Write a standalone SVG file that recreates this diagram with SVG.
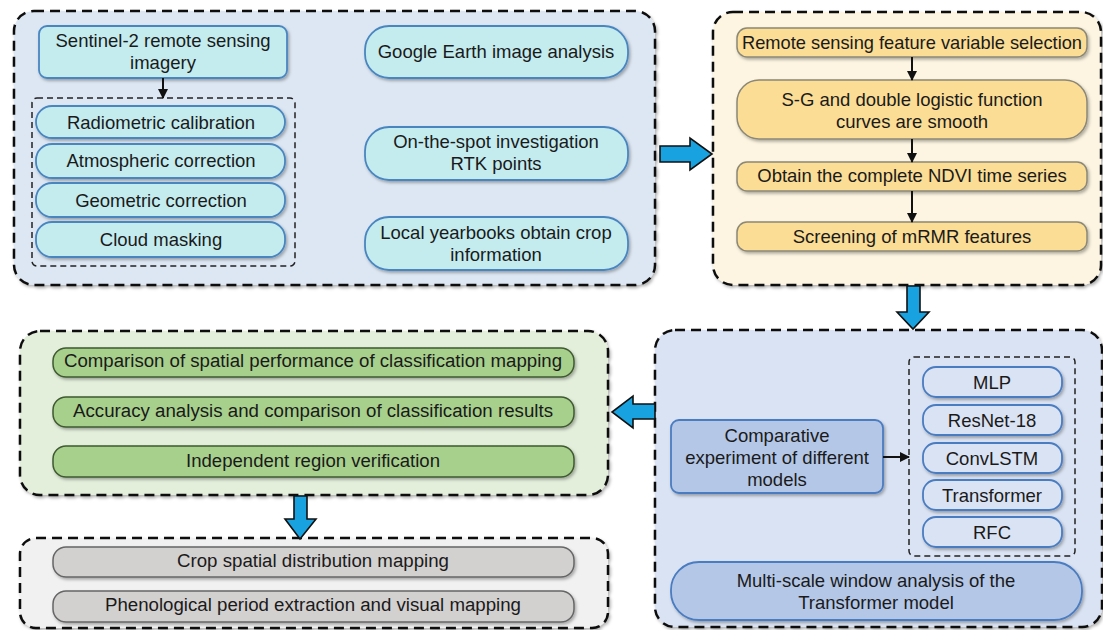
<svg xmlns="http://www.w3.org/2000/svg" width="1103" height="630" viewBox="0 0 1103 630">
<defs>
<filter id="sh" x="-10%" y="-20%" width="120%" height="150%">
<feDropShadow dx="1.5" dy="2" stdDeviation="1.5" flood-color="#000" flood-opacity="0.3"/>
</filter>
<marker id="ah" viewBox="0 0 10 10" refX="9" refY="5" markerWidth="5" markerHeight="5" orient="auto">
<path d="M0,0 L10,5 L0,10 Z" fill="#111"/>
</marker>
<style>
text{font-family:"Liberation Sans",Arial,sans-serif;fill:#1a1a1a;text-anchor:middle;dominant-baseline:central}
.t{font-size:18.5px}
.n{font-size:18px}
.panel{stroke:#111;stroke-width:2.5;stroke-dasharray:10 6}
.inner{fill:none;stroke:#222;stroke-width:1.5;stroke-dasharray:6 4}
.cy{fill:#c4ecef;stroke:#4a86c0;stroke-width:1.8}
.ye{fill:#fbdd95;stroke:#8b8878;stroke-width:1.5}
.gr{fill:#a8d08d;stroke:#3f5a30;stroke-width:1.5}
.gy{fill:#d3d0d0;stroke:#666;stroke-width:1.5}
.bl{fill:#b4c7e7;stroke:#4a7cc0;stroke-width:1.8}
.lb{fill:#dae3f3;stroke:#4a7cc0;stroke-width:1.8}
.big{fill:#18a3e0;stroke:#111;stroke-width:1.6}
.ln{stroke:#111;stroke-width:2;fill:none;marker-end:url(#ah)}
</style>
</defs>

<g id="panel-data">
<rect class="panel" x="14" y="11" width="641" height="274" rx="20" fill="#dde7f3" filter="url(#sh)"/>
</g>
<g id="panel-features">
<rect class="panel" x="713" y="12" width="388" height="273" rx="20" fill="#fdf5e2" filter="url(#sh)"/>
</g>
<g id="panel-results">
<rect class="panel" x="20" y="331" width="588" height="164" rx="20" fill="#e3eedb" filter="url(#sh)"/>
</g>
<g id="panel-mapping">
<rect class="panel" x="20" y="538" width="588" height="90" rx="16" fill="#f1f1f1" filter="url(#sh)"/>
</g>
<g id="panel-models">
<rect class="panel" x="655" y="330" width="447" height="297" rx="20" fill="#dae3f3" filter="url(#sh)"/>
</g>

<g id="sentinel">
<rect class="cy" x="39" y="26" width="248" height="52" rx="8" filter="url(#sh)"/>
<text class="t" x="163" y="40">Sentinel-2 remote sensing</text>
<text class="t" x="163" y="62">imagery</text>
</g>
<g id="preprocess-group">
<rect class="inner" x="32" y="98" width="263" height="168" rx="5"/>
</g>
<g id="radiometric">
<rect class="cy" x="36" y="106" width="249" height="32" rx="16" filter="url(#sh)"/>
<text class="t" x="161" y="122">Radiometric calibration</text>
</g>
<g id="atmospheric">
<rect class="cy" x="36" y="144" width="249" height="34" rx="16" filter="url(#sh)"/>
<text class="t" x="161" y="160">Atmospheric correction</text>
</g>
<g id="geometric">
<rect class="cy" x="36" y="183" width="249" height="34" rx="16" filter="url(#sh)"/>
<text class="t" x="161" y="200">Geometric correction</text>
</g>
<g id="cloud">
<rect class="cy" x="36" y="222" width="249" height="35" rx="16" filter="url(#sh)"/>
<text class="t" x="161" y="239">Cloud masking</text>
</g>
<g id="google">
<rect class="cy" x="365" y="26" width="263" height="52" rx="24" filter="url(#sh)"/>
<text class="t" x="496" y="51">Google Earth image analysis</text>
</g>
<g id="onspot">
<rect class="cy" x="365" y="127" width="263" height="53" rx="24" filter="url(#sh)"/>
<text class="t" x="496" y="141">On-the-spot investigation</text>
<text class="t" x="496" y="163">RTK points</text>
</g>
<g id="yearbook">
<rect class="cy" x="365" y="217" width="263" height="53" rx="24" filter="url(#sh)"/>
<text class="t" x="496" y="232">Local yearbooks obtain crop</text>
<text class="t" x="496" y="254">information</text>
</g>

<g id="feature-selection">
<rect class="ye" x="737" y="28" width="350" height="29" rx="10" filter="url(#sh)"/>
<text class="t" x="912" y="42" textLength="340" lengthAdjust="spacingAndGlyphs">Remote sensing feature variable selection</text>
</g>
<g id="sg-smooth">
<rect class="ye" x="737" y="80" width="350" height="59" rx="22" filter="url(#sh)"/>
<text class="t" x="912" y="99">S-G and double logistic function</text>
<text class="t" x="912" y="121">curves are smooth</text>
</g>
<g id="ndvi">
<rect class="ye" x="737" y="162" width="350" height="29" rx="10" filter="url(#sh)"/>
<text class="t" x="912" y="175">Obtain the complete NDVI time series</text>
</g>
<g id="mrmr">
<rect class="ye" x="737" y="222" width="350" height="29" rx="10" filter="url(#sh)"/>
<text class="t" x="912" y="236">Screening of mRMR features</text>
</g>

<g id="spatial-comparison">
<rect class="gr" x="53" y="348" width="521" height="29" rx="13" filter="url(#sh)"/>
<text class="n" x="313" y="361" textLength="498" lengthAdjust="spacingAndGlyphs">Comparison of spatial performance of classification mapping</text>
</g>
<g id="accuracy">
<rect class="gr" x="53" y="397" width="521" height="30" rx="13" filter="url(#sh)"/>
<text class="n" x="313" y="411" textLength="480" lengthAdjust="spacingAndGlyphs">Accuracy analysis and comparison of classification results</text>
</g>
<g id="independent">
<rect class="gr" x="53" y="446" width="521" height="31" rx="13" filter="url(#sh)"/>
<text class="n" x="313" y="461" textLength="254" lengthAdjust="spacingAndGlyphs">Independent region verification</text>
</g>
<g id="crop-mapping">
<rect class="gy" x="53" y="547" width="521" height="30" rx="13" filter="url(#sh)"/>
<text class="n" x="313" y="561" textLength="272" lengthAdjust="spacingAndGlyphs">Crop spatial distribution mapping</text>
</g>
<g id="phenology">
<rect class="gy" x="53" y="591" width="521" height="31" rx="13" filter="url(#sh)"/>
<text class="n" x="313" y="605" textLength="416" lengthAdjust="spacingAndGlyphs">Phenological period extraction and visual mapping</text>
</g>

<g id="comparative">
<rect class="bl" x="671" y="420" width="212" height="73" rx="8" filter="url(#sh)"/>
<text class="t" x="777" y="435">Comparative</text>
<text class="t" x="777" y="457">experiment of different</text>
<text class="t" x="777" y="479">models</text>
</g>
<g id="models-group">
<rect class="inner" x="909" y="357" width="166" height="199" rx="5"/>
</g>
<g id="mlp">
<rect class="lb" x="923" y="367" width="139" height="30" rx="13" filter="url(#sh)"/>
<text class="t" x="992" y="382">MLP</text>
</g>
<g id="resnet">
<rect class="lb" x="923" y="405" width="139" height="30" rx="13" filter="url(#sh)"/>
<text class="t" x="992" y="420">ResNet-18</text>
</g>
<g id="convlstm">
<rect class="lb" x="923" y="443" width="139" height="30" rx="13" filter="url(#sh)"/>
<text class="t" x="992" y="458">ConvLSTM</text>
</g>
<g id="transformer">
<rect class="lb" x="923" y="480" width="139" height="30" rx="13" filter="url(#sh)"/>
<text class="t" x="992" y="495">Transformer</text>
</g>
<g id="rfc">
<rect class="lb" x="923" y="517" width="139" height="30" rx="13" filter="url(#sh)"/>
<text class="t" x="992" y="532">RFC</text>
</g>
<g id="multiscale">
<rect class="bl" x="671" y="562" width="411" height="58" rx="28" filter="url(#sh)"/>
<text class="t" x="876" y="580">Multi-scale window analysis of the</text>
<text class="t" x="876" y="602">Transformer model</text>
</g>

<g id="connectors">
<line class="ln" x1="163" y1="78" x2="163" y2="98"/>
<line class="ln" x1="912" y1="57" x2="912" y2="80"/>
<line class="ln" x1="912" y1="139" x2="912" y2="162"/>
<line class="ln" x1="912" y1="191" x2="912" y2="222"/>
<line class="ln" x1="883" y1="457" x2="909" y2="457"/>
<path class="big" d="M660,146 H690 V138 L712,154 L690,170 V162 H660 Z"/>
<path class="big" d="M907,286 V312 H897 L913,329 L929,312 H920 V286 Z"/>
<path class="big" d="M655,404 H633 V396 L612,412 L633,428 V419 H655 Z"/>
<path class="big" d="M294,496 V519 H285 L300,539 L316,519 H307 V496 Z"/>
</g>
</svg>
